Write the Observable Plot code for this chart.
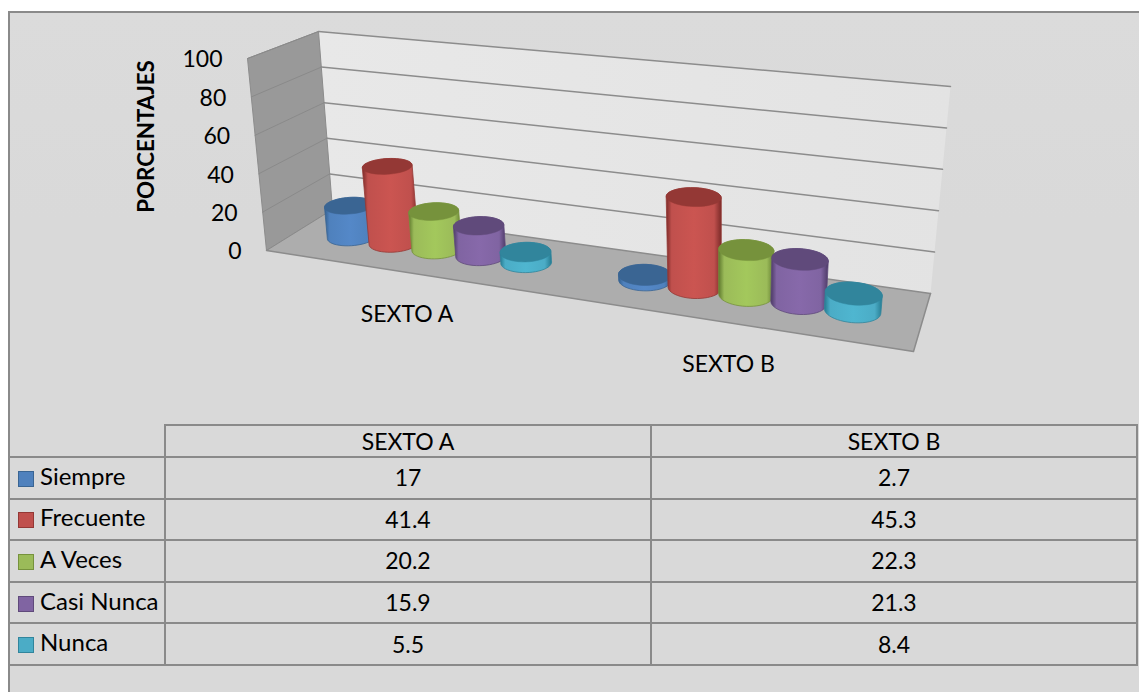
<!DOCTYPE html>
<html><head><meta charset="utf-8">
<script src="https://cdn.jsdelivr.net/npm/d3@7"></script>
<script src="https://cdn.jsdelivr.net/npm/@observablehq/plot@0.6"></script>
<style>
html,body{margin:0;padding:0;background:#fff;width:1139px;height:692px;overflow:hidden;font-family:Lato,sans-serif;color:#000}
#frame{position:absolute;left:8px;top:11px;width:1140px;height:690px;background:linear-gradient(#dbdbdb,#d9d9d9 30%);border:2px solid #8a8a8a;box-sizing:border-box}
#chart{position:absolute;left:0;top:0}
table{position:absolute;left:9px;top:424px;width:1129px;height:241px;border-collapse:collapse;table-layout:fixed;font-size:23px;text-align:center}
tr{height:41.6px}
tr.head{height:32px}
td{border:2px solid #8a8a8a;padding:0;line-height:1}
td.blank{border:none;border-right:2px solid #8a8a8a;border-bottom:2px solid #8a8a8a}
td.name{text-align:left;white-space:nowrap;border-left:none;font-size:24px;padding-bottom:4px;box-sizing:border-box}
td.name i{display:inline-block;box-sizing:border-box;width:16px;height:16px;margin:0 6px 0 9px;vertical-align:-2px;border:1.5px solid}
</style></head>
<body>
<div id="frame"></div>
<div id="chart"></div>
<table id="tbl"></table>
<script>
const categories = ["SEXTO A", "SEXTO B"];
const seriesNames = ["Siempre", "Frecuente", "A Veces", "Casi Nunca", "Nunca"];
const sextoA = [17, 41.4, 20.2, 15.9, 5.5];
const sextoB = [2.7, 45.3, 22.3, 21.3, 8.4];
const tickValues = [0, 20, 40, 60, 80, 100];
const colors = ["#4f81bd", "#c0504d", "#9bbb59", "#8064a2", "#4bacc6"];
const tops = ["#3a6593", "#943835", "#76923c", "#604a7b", "#31859c"];
const lights = ["#5488c8", "#cb5551", "#a3c85c", "#8769aa", "#4fb6d0"];
const darks = ["#33608f", "#7c2b29", "#5f7a2e", "#4c3a66", "#257a90"];

const W = 1139, H = 412;
// view of the 3-D box: floor and ceiling corners (front-left, front-right, back-right, back-left)
const floorQuad = [[266,250],[913,351],[930,293],[332,209]];
const ceilQuad = [[247,58],[939,128],[950,86],[318,31]];
function homography([p0,p1,p2,p3]) {
  const dx1=p1[0]-p2[0], dx2=p3[0]-p2[0], sx=p0[0]-p1[0]+p2[0]-p3[0];
  const dy1=p1[1]-p2[1], dy2=p3[1]-p2[1], sy=p0[1]-p1[1]+p2[1]-p3[1];
  const den=dx1*dy2-dx2*dy1, g=(sx*dy2-dx2*sy)/den, h=(dx1*sy-sx*dy1)/den;
  const a=p1[0]-p0[0]+g*p1[0], b=p3[0]-p0[0]+h*p3[0], d=p1[1]-p0[1]+g*p1[1], e=p3[1]-p0[1]+h*p3[1];
  return (u,v)=>{const w=g*u+h*v+1; return [(a*u+b*v+p0[0])/w,(d*u+e*v+p0[1])/w];};
}
const onFloor = homography(floorQuad), onCeil = homography(ceilQuad);
// u: along categories 0..1, k: depth 0 front..1 back, v: value 0..100
function project(u,k,v){
  const a=onFloor(u,k), b=onCeil(u,k), t=v/100;
  return {x:a[0]+(b[0]-a[0])*t, y:a[1]+(b[1]-a[1])*t};
}
const gap = 1.5, n = seriesNames.length;
const slot = (g,i)=>(g+(gap/2+i+0.5)/(n+gap))/categories.length;
const RU = 0.039, RK = 0.2, barDepthScale = 0.975;
const angles = d3.range(48).map(i=>i/48*2*Math.PI);
function ring(u,v){return angles.map(t=>project(u+RU*Math.cos(t),0.5+RK*Math.sin(t),v*barDepthScale));}

const wall = pts=>pts.map(p=>project(...p));
const backWall = wall([[0,1,0],[1,1,0],[1,1,100],[0,1,100]]);
const sideWall = wall([[0,0,0],[0,1,0],[0,1,100],[0,0,100]]);
const floorPoly = wall([[0,0,0],[1,0,0],[1,1,0],[0,1,0]]);
const closed = a=>[...a,a[0]];
const gridBack = tickValues.flatMap(v=>[project(0,1,v),project(1,1,v)].map(p=>({...p,v})));
const gridSide = tickValues.flatMap(v=>[project(0,0,v),project(0,1,v)].map(p=>({...p,v})));
const rim = [[0,0,0],[1,0,0],[1,1,0]].map(p=>project(...p));

const shape = {x:"x",y:"y"};
const marks = [
  () => {
    const ns="http://www.w3.org/2000/svg";
    const defs=document.createElementNS(ns,"defs");
    defs.innerHTML = colors.map((c,i)=>`<linearGradient id="side${i}" x1="0" x2="1" y1="0" y2="0">
      <stop offset="0" stop-color="${darks[i]}"/><stop offset=".1" stop-color="${c}"/>
      <stop offset=".5" stop-color="${lights[i]}"/><stop offset=".87" stop-color="${c}"/>
      <stop offset="1" stop-color="${darks[i]}"/></linearGradient>`).join("")
      + `<linearGradient id="backWall" x1="0" x2="1" y1="0" y2="0"><stop offset="0" stop-color="#e8e8e8"/><stop offset="1" stop-color="#e3e3e3"/></linearGradient>`;
    return defs;
  },
  Plot.line(closed(backWall),{...shape,fill:"url(#backWall)",stroke:"none"}),
  Plot.line(closed(sideWall),{...shape,fill:"#999999",stroke:"#8c8c8c",strokeWidth:1}),
  Plot.line(closed(floorPoly),{...shape,fill:"#adadad",stroke:"none"}),
  Plot.line(gridBack,{...shape,z:"v",stroke:"#8c8c8c",strokeWidth:1.5}),
  Plot.line(gridSide,{...shape,z:"v",stroke:"#8a8a8a",strokeWidth:1}),
  Plot.line(rim,{...shape,stroke:"#8c8c8c",strokeWidth:1.5}),
  ...categories.flatMap((cat,g)=>{
    const values = g===0?sextoA:sextoB;
    return values.flatMap((val,i)=>{
      const u = slot(g,i);
      const bottom = ring(u,0), top = ring(u,val);
      const hull = d3.polygonHull([...bottom,...top].map(p=>[p.x,p.y])).map(([x,y])=>({x,y}));
      return [
        Plot.line(closed(hull),{...shape,fill:`url(#side${i})`,stroke:tops[i],strokeWidth:0.8}),
        Plot.line(closed(top),{...shape,fill:tops[i],stroke:tops[i],strokeWidth:0.5,curve:"linear"})
      ];
    });
  }),
  Plot.text(tickValues,{x:v=>project(0,0,v).x,y:v=>project(0,0,v).y,text:v=>String(v),textAnchor:"end",dx:-25,dy:1.5,fontSize:23,fill:"#000"}),
  Plot.text(categories,{
    x:(c,g)=>project((g+0.5)/categories.length,0,0).x,
    y:(c,g)=>project((g+0.5)/categories.length,0,0).y,
    dx:0,dy:42,text:c=>c,fontSize:23,fill:"#000"}),
  Plot.text(["PORCENTAJES"],{frameAnchor:"top-left",textAnchor:"middle",lineAnchor:"middle",dx:146,dy:136,rotate:-90,text:d=>d,fontSize:22.3,fontWeight:"bold",fill:"#000"})
];
const chart = Plot.plot({
  width:W,height:H,margin:0,
  x:{domain:[0,W],range:[0,W],axis:null},
  y:{domain:[0,H],range:[0,H],axis:null},
  style:{background:"transparent",fontFamily:"Lato,sans-serif"},
  marks
});
document.getElementById("chart").append(chart);

// data table
const rows = [`<colgroup><col style="width:156px"><col><col></colgroup>`,
  `<tr class="head"><td class="blank"></td>${categories.map(c=>`<td>${c}</td>`).join("")}</tr>`,
  ...seriesNames.map((s,i)=>`<tr><td class="name"><i style="background:${colors[i]};border-color:${tops[i]}"></i>${s}</td><td>${sextoA[i]}</td><td>${sextoB[i]}</td></tr>`)];
document.getElementById("tbl").innerHTML = rows.join("");
</script>
</body></html>
